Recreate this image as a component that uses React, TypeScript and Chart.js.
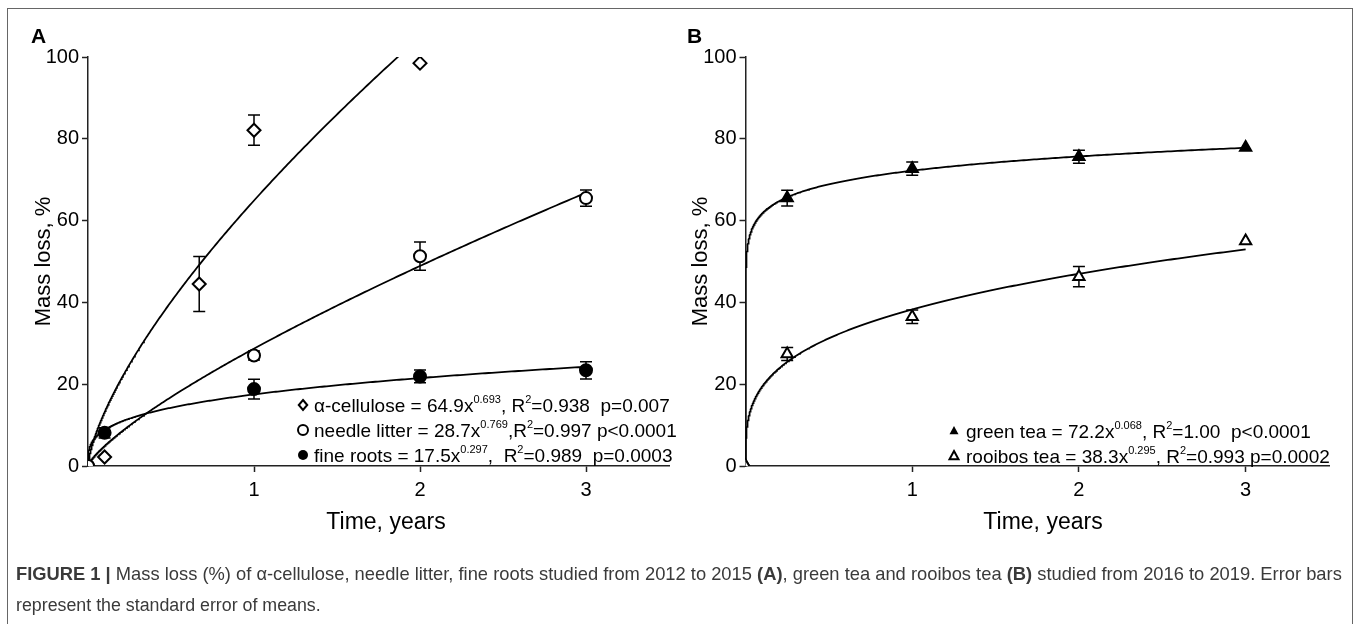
import React, { useEffect, useLayoutEffect, useRef } from 'react';
import { Chart, registerables } from 'chart.js';

Chart.register(...registerables);

// ---------- Panel A data (Time, years / Mass loss, %) ----------
const celluloseX = [0, 0.1, 0.67, 1, 2];
const celluloseY = [0, 2.2, 44.5, 82.1, 98.5];
const celluloseErr = [0, 0, 6.7, 3.7, 0];

const needleX = [0, 1, 2, 3];
const needleY = [0, 27.0, 51.3, 65.5];
const needleErr = [0, 1.1, 3.45, 2.0];

const rootsX = [0, 0.1, 1, 2, 3];
const rootsY = [0, 8.1, 18.8, 21.9, 23.4];
const rootsErr = [0, 1.25, 2.4, 1.55, 2.1];

// ---------- Panel B data ----------
const greenX = [0, 0.25, 1, 2, 3];
const greenY = [0, 65.5, 72.7, 75.6, 77.9];
const greenErr = [0, 1.9, 1.6, 1.6, 0];

const rooibosX = [0, 0.25, 1, 2, 3];
const rooibosY = [0, 27.4, 36.5, 46.3, 55.0];
const rooibosErr = [0, 1.6, 1.65, 2.5, 0];

// ---------- Fitted power models printed in the legends: y = a * x^b ----------
const fitCellulose = [64.9, 0.693];
const fitNeedle = [28.7, 0.769];
const fitRoots = [17.5, 0.297];
const fitGreen = [72.2, 0.068];
const fitRooibos = [38.3, 0.295];
const fitRangeMax = 3;

// ---------- Axis ticks / labels ----------
const xTickValues = [1, 2, 3];
const yTickValues = [0, 20, 40, 60, 80, 100];
const xTitle = 'Time, years';
const yTitle = 'Mass loss, %';

const legendA = [
  { marker: 'diamondOpen', parts: [['α-cellulose = 64.9x', 0], ['0.693', 1], [', R', 0], ['2', 1], ['=0.938  p=0.007', 0]] },
  { marker: 'circleOpen', parts: [['needle litter = 28.7x', 0], ['0.769', 1], [',R', 0], ['2', 1], ['=0.997 p<0.0001', 0]] },
  { marker: 'circleFilled', parts: [['fine roots = 17.5x', 0], ['0.297', 1], [',  R', 0], ['2', 1], ['=0.989  p=0.0003', 0]] },
];
const legendB = [
  { marker: 'triangleFilled', parts: [['green tea = 72.2x', 0], ['0.068', 1], [', R', 0], ['2', 1], ['=1.00  p<0.0001', 0]] },
  { marker: 'triangleOpen', parts: [['rooibos tea = 38.3x', 0], ['0.295', 1], [', R', 0], ['2', 1], ['=0.993 p=0.0002', 0]] },
];

const FONT = '"Liberation Sans", Arial, Helvetica, sans-serif';

function curvePoints(fit: number[]) {
  const [a, b] = fit;
  const N = 400;
  const pts: { x: number; y: number }[] = [];
  for (let i = 0; i <= N; i++) {
    const x = fitRangeMax * Math.pow(i / N, 3);
    pts.push({ x, y: x === 0 ? 0 : a * Math.pow(x, b) });
  }
  return pts;
}

function zip(xs: number[], ys: number[]) {
  return xs.map((x, i) => ({ x, y: ys[i] }));
}

function drawMarker(ctx: CanvasRenderingContext2D, kind: string, x: number, y: number, r: number) {
  ctx.save();
  ctx.lineWidth = 2;
  ctx.strokeStyle = '#000';
  ctx.fillStyle = '#000';
  ctx.beginPath();
  if (kind.startsWith('diamond')) {
    ctx.moveTo(x, y - r);
    ctx.lineTo(x + r * 0.85, y);
    ctx.lineTo(x, y + r);
    ctx.lineTo(x - r * 0.85, y);
    ctx.closePath();
  } else if (kind.startsWith('circle')) {
    ctx.arc(x, y, r, 0, Math.PI * 2);
  } else {
    ctx.moveTo(x, y - r);
    ctx.lineTo(x + r * 0.9, y + r * 0.65);
    ctx.lineTo(x - r * 0.9, y + r * 0.65);
    ctx.closePath();
  }
  if (kind.endsWith('Open')) {
    ctx.fillStyle = '#fff';
    ctx.fill();
    ctx.stroke();
  } else {
    ctx.fill();
  }
  ctx.restore();
}

type PanelCfg = {
  left: number;
  letter: string;
  letterX: number;
  yScaleWidth: number;
  padRight: number;
  yTitlePad: number;
  xTitleX: number;
  legend: any[];
  legendMarkerX: number;
  legendTextX: number;
  legendRowY: number[];
  errSets: { x: number[]; y: number[]; e: number[] }[];
  datasets: any[];
};

const CANVAS_W = 680;
const CANVAS_H = 560;
const PLOT_TOP = 57;
const PLOT_BOTTOM = 466;

function Panel({ cfg }: { cfg: PanelCfg }) {
  const ref = useRef<HTMLCanvasElement | null>(null);
  useEffect(() => {
    if (!ref.current) return;
    const errPlugin = {
      id: 'errbars',
      beforeDatasetsDraw(chart: any) {
        const { ctx, scales } = chart;
        const xs = scales.x, ys = scales.y;
        ctx.save();
        ctx.strokeStyle = '#000';
        ctx.lineWidth = 1.5;
        for (const s of cfg.errSets) {
          s.x.forEach((xv, i) => {
            const e = s.e[i];
            if (!e) return;
            const px = xs.getPixelForValue(xv);
            const top = ys.getPixelForValue(s.y[i] + e);
            const bot = ys.getPixelForValue(s.y[i] - e);
            ctx.beginPath();
            ctx.moveTo(px, top);
            ctx.lineTo(px, bot);
            ctx.moveTo(px - 6, top);
            ctx.lineTo(px + 6, top);
            ctx.moveTo(px - 6, bot);
            ctx.lineTo(px + 6, bot);
            ctx.stroke();
          });
        }
        ctx.restore();
      },
    };
    const annotPlugin = {
      id: 'annot',
      afterDraw(chart: any) {
        const ctx: CanvasRenderingContext2D = chart.ctx;
        ctx.save();
        ctx.fillStyle = '#000';
        ctx.font = `bold 21px ${FONT}`;
        ctx.textBaseline = 'alphabetic';
        ctx.textAlign = 'left';
        ctx.fillText(cfg.letter, cfg.letterX, 43);
        // x-axis title
        ctx.font = `23px ${FONT}`;
        ctx.textAlign = 'center';
        ctx.textBaseline = 'middle';
        ctx.fillText(xTitle, cfg.xTitleX, 523);
        ctx.textAlign = 'left';
        ctx.textBaseline = 'alphabetic';
        cfg.legend.forEach((row, r) => {
          const yc = cfg.legendRowY[r];
          drawMarker(ctx, row.marker, cfg.legendMarkerX, yc, 5);
          let x = cfg.legendTextX;
          const base = yc + 7;
          for (const [t, sup] of row.parts) {
            if (sup) {
              ctx.font = `11px ${FONT}`;
              ctx.fillText(t, x, base - 9);
            } else {
              ctx.font = `19px ${FONT}`;
              ctx.fillText(t, x, base);
            }
            x += ctx.measureText(t).width;
          }
        });
        ctx.restore();
      },
    };
    const chart = new Chart(ref.current, {
      type: 'scatter',
      data: { datasets: cfg.datasets },
      options: {
        animation: false,
        responsive: false,
        maintainAspectRatio: false,
        events: [],
        layout: { padding: { top: PLOT_TOP, right: cfg.padRight, left: 0, bottom: 0 } },
        plugins: { legend: { display: false }, tooltip: { enabled: false } },
        scales: {
          x: {
            type: 'linear',
            min: 0,
            max: 3.5,
            afterBuildTicks: (s: any) => {
              s.ticks = xTickValues.map((v) => ({ value: v }));
            },
            afterFit: (s: any) => {
              s.height = CANVAS_H - PLOT_BOTTOM;
            },
            grid: { display: true, drawOnChartArea: false, drawTicks: true, tickLength: 6, tickWidth: 1.5, tickColor: '#222' },
            border: { display: true, color: '#222', width: 1.5 },
            ticks: { color: '#000', font: { family: FONT, size: 20 }, padding: 6, maxRotation: 0, autoSkip: false },
            title: { display: false },
          },
          y: {
            type: 'linear',
            min: 0,
            max: 100,
            afterBuildTicks: (s: any) => {
              s.ticks = yTickValues.map((v) => ({ value: v }));
            },
            afterFit: (s: any) => {
              s.width = cfg.yScaleWidth;
            },
            grid: { display: true, drawOnChartArea: false, drawTicks: true, tickLength: 6, tickWidth: 1.5, tickColor: '#222' },
            border: { display: true, color: '#222', width: 1.5 },
            ticks: { color: '#000', font: { family: FONT, size: 20 }, padding: 3, autoSkip: false },
            title: { display: true, text: yTitle, color: '#000', font: { family: FONT, size: 22 }, padding: { top: cfg.yTitlePad, bottom: 0 } },
          },
        },
      },
      plugins: [errPlugin, annotPlugin],
    } as any);
    return () => chart.destroy();
  }, [cfg]);
  return (
    <canvas
      ref={ref}
      width={CANVAS_W}
      height={CANVAS_H}
      style={{ position: 'absolute', left: cfg.left, top: 0, width: CANVAS_W, height: CANVAS_H }}
    />
  );
}

function pointSet(xs: number[], ys: number[], style: string, open: boolean, radius: number) {
  return {
    data: zip(xs, ys),
    showLine: false,
    pointStyle: style,
    pointRadius: radius,
    pointBorderWidth: 2,
    pointBorderColor: '#000',
    pointBackgroundColor: open ? '#fff' : '#000',
  };
}

function curveSet(fit: number[]) {
  return {
    data: curvePoints(fit),
    showLine: true,
    pointRadius: 0,
    borderColor: '#000',
    borderWidth: 1.8,
    tension: 0,
    fill: false,
  };
}

const cfgA: PanelCfg = {
  left: 0,
  letter: 'A',
  letterX: 31,
  yScaleWidth: 88,
  padRight: 11,
  yTitlePad: 31,
  xTitleX: 386,
  legend: legendA,
  legendMarkerX: 303,
  legendTextX: 314,
  legendRowY: [405, 430, 455],
  errSets: [
    { x: celluloseX, y: celluloseY, e: celluloseErr },
    { x: needleX, y: needleY, e: needleErr },
    { x: rootsX, y: rootsY, e: rootsErr },
  ],
  datasets: [
    pointSet(needleX, needleY, 'circle', true, 6),
    pointSet(celluloseX, celluloseY, 'rectRot', true, 6.5),
    pointSet(rootsX, rootsY, 'circle', false, 6),
    curveSet(fitCellulose),
    curveSet(fitNeedle),
    curveSet(fitRoots),
  ],
};

const cfgB: PanelCfg = {
  left: 680,
  letter: 'B',
  letterX: 7,
  yScaleWidth: 65.5,
  padRight: 31,
  yTitlePad: 8,
  xTitleX: 363,
  legend: legendB,
  legendMarkerX: 274,
  legendTextX: 286,
  legendRowY: [431, 456],
  errSets: [
    { x: greenX, y: greenY, e: greenErr },
    { x: rooibosX, y: rooibosY, e: rooibosErr },
  ],
  datasets: [
    pointSet(rooibosX, rooibosY, 'triangle', true, 6.5),
    pointSet(greenX, greenY, 'triangle', false, 6.5),
    curveSet(fitGreen),
    curveSet(fitRooibos),
  ],
};

export default function App() {
  const line1Ref = useRef<HTMLSpanElement | null>(null);
  const line2Ref = useRef<HTMLSpanElement | null>(null);
  useLayoutEffect(() => {
    document.body.style.margin = '0';
    const fit = (el: HTMLSpanElement | null, target: number) => {
      if (!el) return;
      const w = el.getBoundingClientRect().width;
      if (w > 0) el.style.fontSize = (16 * target) / w + 'px';
    };
    fit(line1Ref.current, 1326);
    fit(line2Ref.current, 305);
  }, []);
  return (
    <div style={{ position: 'relative', width: 1360, height: 624, overflow: 'hidden', background: '#fff' }}>
      <div
        style={{
          position: 'absolute',
          left: 7,
          top: 8,
          width: 1346,
          height: 720,
          border: '1.5px solid #666',
          boxSizing: 'border-box',
        }}
      />
      <Panel cfg={cfgA} />
      <Panel cfg={cfgB} />
      <div
        style={{
          position: 'absolute',
          left: 16,
          top: 559,
          color: '#3a3a3a',
          fontFamily: FONT,
          lineHeight: '30px',
          whiteSpace: 'nowrap',
        }}
      >
        <div>
          <span ref={line1Ref} style={{ display: 'inline-block', fontSize: 16 }}>
            <b>FIGURE 1 |</b> Mass loss (%) of α-cellulose, needle litter, fine roots studied from 2012 to 2015 <b>(A)</b>, green
            tea and rooibos tea <b>(B)</b> studied from 2016 to 2019. Error bars
          </span>
        </div>
        <div>
          <span ref={line2Ref} style={{ display: 'inline-block', fontSize: 16 }}>
            represent the standard error of means.
          </span>
        </div>
      </div>
    </div>
  );
}
